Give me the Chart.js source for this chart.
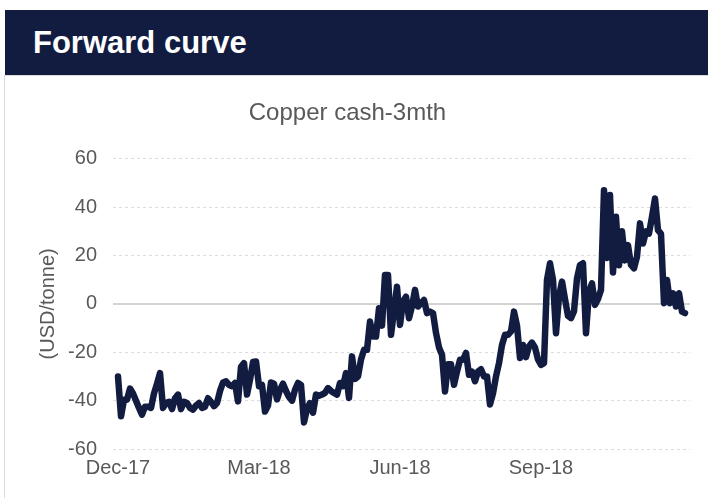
<!DOCTYPE html>
<html>
<head>
<meta charset="utf-8">
<script src="https://cdn.jsdelivr.net/npm/chart.js@4.4.1/dist/chart.umd.min.js"></script>
<style>
  html, body { margin: 0; padding: 0; background: #ffffff; }
  body { width: 708px; height: 498px; position: relative; overflow: hidden; font-family: Arial, "Liberation Sans", sans-serif; }
  #header {
    position: absolute; left: 5px; top: 10px; width: 703px; height: 65px;
    background: #121c40; color: #ffffff; font-weight: bold; font-size: 31px;
    display: flex; align-items: center; padding-left: 28px; box-sizing: border-box;
  }
  #panel {
    position: absolute; left: 4px; top: 75px; width: 720px; height: 440px;
    border: 1px solid #dcdcdc; box-sizing: border-box;
  }
  #chart { position: absolute; left: 5px; top: 76px; }
</style>
</head>
<body>
<div id="header">Forward curve</div>
<div id="panel"></div>
<canvas id="chart" width="703" height="422"></canvas>
<script>
// daily cash-3mth spread, USD/tonne, Dec-17 .. Dec-18
const spread = [
  -30, -46.5, -39.6, -39.6, -35, -37, -40, -43, -45.8, -42.5,
  -42.5, -43, -37, -33, -28.6, -43, -41, -40.5, -43.5, -39,
  -37.5, -43.5, -40.5, -41, -43, -43.7, -42, -41, -43, -42.5,
  -39, -40.5, -42.3, -41, -36, -32.5, -32, -33.5, -34, -32.7,
  -40.3, -26, -24.5, -37.5, -31.3, -24, -23.8, -34, -33.5, -44.5,
  -42, -32.5, -33, -39.5, -35.5, -33, -36, -38.5, -40, -35.5,
  -32.7, -33.5, -49, -43.5, -41, -45, -37.5, -38, -37.5, -36.8,
  -34.8, -36, -36.8, -37.5, -32.7, -34, -28.6, -38.9, -21.7, -31,
  -30, -23, -19, -19, -7.3, -13.5, -13.5, -1.8, -9, 12,
  12, -12.8, -3, 7.1, -8.7, 1, 3, -5.9, -1, 5.8,
  -1.1, 0.3, 1.6, -3.8, -3.2, -3.8, -12, -18, -21, -36.2,
  -25, -25, -33.4, -28, -23.1, -23.1, -20.3, -29.3, -28, -32,
  -28, -27, -30, -30, -41.6, -37, -30, -24.5, -17, -12.8,
  -12.8, -11.4, -3.2, -9, -22.4, -17, -22, -17.6, -16, -18,
  -23, -25.2, -24.5, 10, 16.8, 10, -12.1, 3, 9.2, 2,
  -5, -5.9, -3, 10.5, 16.1, 16.8, -12.1, 5, 8.5, -0.4,
  2, 5.8, 47, 19, 45, 13, 36, 16, 30, 18,
  24.3, 16.1, 14.7, 19.5, 33.3, 25, 30, 29.1, 36, 43.6,
  30.5, 29, 0.3, 9.9, 0.3, 4.4, -1.1, 4.4, -3.2, -3.8
];
const days = spread.map((_, i) => i);

// month ticks (position in trading days) and their labels
const tickDays = [0, 47, 94, 141];
const tickLabels = ['Dec-17', 'Mar-18', 'Jun-18', 'Sep-18'];

const yTicks = [-60, -40, -20, 0, 20, 40, 60];

const textGrey = '#595959';
const lineNavy = '#121c40';
const fontFamily = 'Arial, "Liberation Sans", sans-serif';

// solid line at zero on top of the dashed grid
const zeroLine = {
  id: 'zeroLine',
  beforeDatasetsDraw(chart) {
    const y = chart.scales.y.getPixelForValue(0);
    const { left, right } = chart.chartArea;
    const ctx = chart.ctx;
    ctx.save();
    ctx.strokeStyle = '#d3d3d3';
    ctx.lineWidth = 2;
    ctx.beginPath();
    ctx.moveTo(left, y);
    ctx.lineTo(right, y);
    ctx.stroke();
    ctx.restore();
  }
};

new Chart(document.getElementById('chart'), {
  type: 'line',
  data: {
    labels: days,
    datasets: [{
      label: 'Copper cash-3mth',
      data: spread,
      borderColor: lineNavy,
      borderWidth: 6.5,
      pointRadius: 0,
      tension: 0,
      borderJoinStyle: 'round',
      borderCapStyle: 'round',
      fill: false
    }]
  },
  options: {
    responsive: false,
    animation: false,
    layout: { padding: { left: 0, right: 18, top: 0, bottom: 19 } },
    plugins: {
      legend: { display: false },
      tooltip: { enabled: false },
      title: {
        display: true,
        text: 'Copper cash-3mth',
        color: textGrey,
        font: { family: fontFamily, size: 24, weight: 'normal', lineHeight: 1.2 },
        padding: { top: 23, bottom: 31 }
      }
    },
    scales: {
      x: {
        type: 'linear',
        min: -1.67,
        max: 190.67,
        afterBuildTicks: (scale) => { scale.ticks = tickDays.map(v => ({ value: v })); },
        afterFit: (scale) => { scale.height = 30; },
        grid: { display: false, drawTicks: false },
        border: { display: false },
        ticks: {
          color: textGrey,
          font: { family: fontFamily, size: 20 },
          padding: 7,
          maxRotation: 0,
          autoSkip: false,
          callback: (value) => {
            const k = tickDays.indexOf(value);
            return k >= 0 ? tickLabels[k] : '';
          }
        }
      },
      y: {
        min: -60,
        max: 60,
        afterBuildTicks: (scale) => { scale.ticks = yTicks.map(v => ({ value: v })); },
        afterFit: (scale) => { scale.width = 108; },
        grid: { color: '#dcdcdc', lineWidth: 1, drawTicks: false },
        border: { display: false, dash: [3, 3] },
        ticks: {
          color: textGrey,
          font: { family: fontFamily, size: 20 },
          padding: 16
        },
        title: {
          display: true,
          text: '(USD/tonne)',
          color: textGrey,
          font: { family: fontFamily, size: 20, lineHeight: 1.2 },
          padding: { top: 31, bottom: 0 }
        }
      }
    }
  },
  plugins: [zeroLine]
});
</script>
</body>
</html>
